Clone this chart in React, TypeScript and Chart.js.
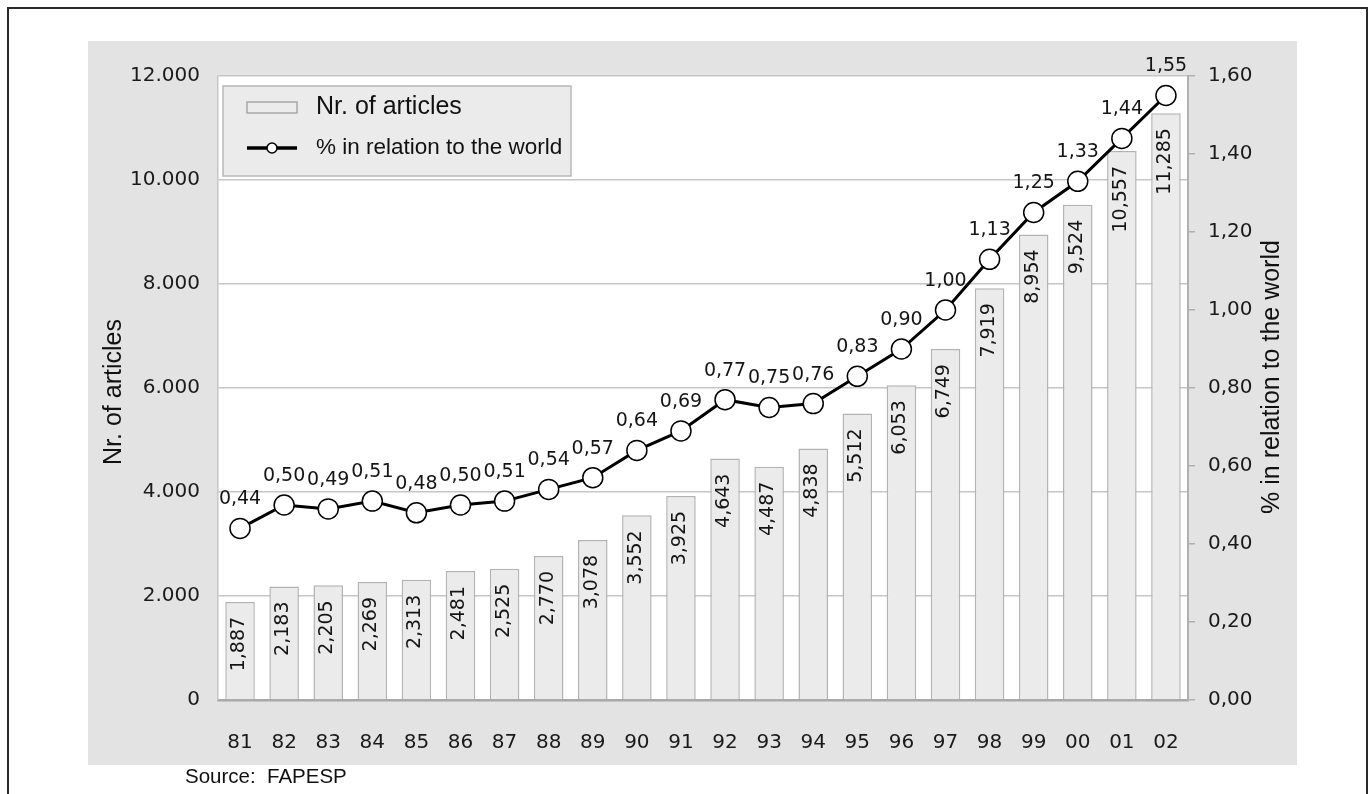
import React, { useEffect, useRef } from 'react';
import { Chart, registerables } from 'chart.js';

Chart.register(...registerables);

const categories = ['81', '82', '83', '84', '85', '86', '87', '88', '89', '90', '91', '92', '93', '94', '95', '96', '97', '98', '99', '00', '01', '02'];
const articles = [1887, 2183, 2205, 2269, 2313, 2481, 2525, 2770, 3078, 3552, 3925, 4643, 4487, 4838, 5512, 6053, 6749, 7919, 8954, 9524, 10557, 11285];
const worldShare = [0.44, 0.50, 0.49, 0.51, 0.48, 0.50, 0.51, 0.54, 0.57, 0.64, 0.69, 0.77, 0.75, 0.76, 0.83, 0.90, 1.00, 1.13, 1.25, 1.33, 1.44, 1.55];
const leftAxis = { min: 0, max: 12000, step: 2000 };
const rightAxis = { min: 0, max: 1.6, step: 0.2 };
const barLabel = 'Nr. of articles';
const lineLabel = '% in relation to the world';
const sourceText = 'Source:\u00a0 FAPESP';

const TICK_FONT = '"DejaVu Sans", Verdana, sans-serif';
const SANS = '"Liberation Sans", Arial, sans-serif';

function groupThousands(n: number, sep: string) {
  return String(n).replace(/\B(?=(\d{3})+(?!\d))/g, sep);
}
function pct(v: number) {
  return v.toFixed(2).replace('.', ',');
}

const decorPlugin = {
  id: 'decor',
  beforeDraw(chart: any) {
    const { ctx, chartArea: a, width, height } = chart;
    ctx.save();
    ctx.fillStyle = '#e3e3e3';
    ctx.fillRect(0, 0, width, height);
    ctx.fillStyle = '#ffffff';
    ctx.fillRect(a.left, a.top, a.right - a.left, a.bottom - a.top);
    ctx.restore();
  },
  afterDatasetDraw(chart: any, args: any) {
    const meta = args.meta;
    if (meta.type !== 'bar') return;
    const { ctx } = chart;
    const data = chart.data.datasets[args.index].data as number[];
    ctx.save();
    ctx.fillStyle = '#151515';
    ctx.font = `19px ${TICK_FONT}`;
    meta.data.forEach((el: any, i: number) => {
      ctx.save();
      ctx.translate(el.x - 1, el.y + 15);
      ctx.rotate(-Math.PI / 2);
      ctx.textAlign = 'right';
      ctx.textBaseline = 'middle';
      ctx.fillText(groupThousands(data[i], ','), 0, 0);
      ctx.restore();
    });
    ctx.restore();
  },
  afterDatasetsDraw(chart: any) {
    const { ctx } = chart;
    chart.data.datasets.forEach((ds: any, di: number) => {
      const meta = chart.getDatasetMeta(di);
      if (meta.type !== 'line') return;
      ctx.save();
      ctx.fillStyle = '#151515';
      ctx.font = `19px ${TICK_FONT}`;
      ctx.textAlign = 'center';
      ctx.textBaseline = 'middle';
      meta.data.forEach((el: any, i: number) => {
        ctx.fillText(pct(ds.data[i]), el.x, el.y - 29);
      });
      ctx.restore();
    });
  },
  afterDraw(chart: any) {
    const { ctx, chartArea: a } = chart;
    ctx.save();
    // axis titles
    ctx.fillStyle = '#111';
    ctx.font = `25px ${SANS}`;
    ctx.textAlign = 'center';
    ctx.textBaseline = 'middle';
    ctx.save();
    ctx.translate(26, (a.top + a.bottom) / 2 + 4);
    ctx.rotate(-Math.PI / 2);
    ctx.fillText(barLabel, 0, 0);
    ctx.restore();
    ctx.save();
    ctx.translate(1184, (a.top + a.bottom) / 2 - 11);
    ctx.rotate(-Math.PI / 2);
    ctx.fillText(lineLabel, 0, 0);
    ctx.restore();

    // legend box
    const lx = 135, ly = 45, lw = 348, lh = 90;
    ctx.fillStyle = '#ebebeb';
    ctx.fillRect(lx, ly, lw, lh);
    ctx.strokeStyle = '#b8b8b8';
    ctx.lineWidth = 1.5;
    ctx.strokeRect(lx, ly, lw, lh);
    // bar swatch
    ctx.fillStyle = '#ececec';
    ctx.fillRect(159, 61, 50, 11);
    ctx.strokeStyle = '#a8a8a8';
    ctx.strokeRect(159, 61, 50, 11);
    // line swatch
    ctx.strokeStyle = '#000';
    ctx.lineWidth = 3.5;
    ctx.beginPath();
    ctx.moveTo(159, 107);
    ctx.lineTo(209, 107);
    ctx.stroke();
    ctx.beginPath();
    ctx.arc(184, 107, 5, 0, Math.PI * 2);
    ctx.fillStyle = '#fff';
    ctx.fill();
    ctx.lineWidth = 1.5;
    ctx.stroke();
    // legend text
    ctx.fillStyle = '#111';
    ctx.textAlign = 'left';
    ctx.textBaseline = 'middle';
    ctx.font = `25px ${SANS}`;
    ctx.fillText(barLabel, 228, 66);
    ctx.font = `22.5px ${SANS}`;
    ctx.fillText(lineLabel, 228, 107);
    ctx.restore();
  },
};

export default function App() {
  const ref = useRef<HTMLCanvasElement>(null);

  useEffect(() => {
    const canvas = ref.current;
    if (!canvas) return;
    const chart = new Chart(canvas, {
      type: 'bar',
      data: {
        labels: categories,
        datasets: [
          {
            type: 'line',
            label: lineLabel,
            data: worldShare,
            yAxisID: 'y1',
            order: 0,
            borderColor: '#000',
            borderWidth: 3,
            pointRadius: 10,
            pointBackgroundColor: '#fff',
            pointBorderColor: '#000',
            pointBorderWidth: 1.5,
            tension: 0,
          } as any,
          {
            type: 'bar',
            label: barLabel,
            data: articles,
            yAxisID: 'y',
            order: 1,
            backgroundColor: '#ebebeb',
            borderColor: '#b3b3b3',
            borderWidth: 1.5,
            barPercentage: 0.67,
            categoryPercentage: 1,
          } as any,
        ],
      },
      options: {
        responsive: false,
        animation: false,
        devicePixelRatio: 1,
        layout: { padding: { top: 35, left: 0, right: 0, bottom: 0 } },
        plugins: { legend: { display: false }, tooltip: { enabled: false } },
        scales: {
          x: {
            grid: { drawOnChartArea: false, drawTicks: false, color: 'transparent' },
            border: { display: true, color: '#a8a8a8', width: 2.5 },
            ticks: {
              color: '#1a1a1a',
              font: { family: TICK_FONT, size: 20 },
              padding: 31,
              autoSkip: false,
              maxRotation: 0,
            },
            afterFit: (s: any) => { s.height = 65; },
          },
          y: {
            position: 'left',
            min: leftAxis.min,
            max: leftAxis.max,
            grid: { color: '#c6c6c6', lineWidth: 1.5, drawTicks: false },
            border: { display: true, color: '#c6c6c6', width: 1.5 },
            ticks: {
              stepSize: leftAxis.step,
              color: '#1a1a1a',
              font: { family: TICK_FONT, size: 20 },
              padding: 18,
              callback: (v: any) => groupThousands(Number(v), '.'),
            },
            afterFit: (s: any) => { s.width = 130; },
          },
          y1: {
            position: 'right',
            min: rightAxis.min,
            max: rightAxis.max,
            grid: { drawOnChartArea: false, drawTicks: true, tickLength: 7, color: '#b0b0b0', lineWidth: 1.5 },
            border: { display: true, color: '#b0b0b0', width: 2 },
            ticks: {
              stepSize: rightAxis.step,
              color: '#1a1a1a',
              font: { family: TICK_FONT, size: 20 },
              padding: 13,
              callback: (v: any) => pct(Number(v)),
            },
            afterFit: (s: any) => { s.width = 109; },
          },
        },
      } as any,
      plugins: [decorPlugin],
    });
    return () => chart.destroy();
  }, []);

  return (
    <div style={{ position: 'fixed', inset: 0, overflow: 'hidden', background: '#fff' }}>
      <div
        style={{
          position: 'absolute',
          left: 7,
          top: 7,
          width: 1361,
          height: 820,
          border: '2px solid #2a2a2a',
          borderBottom: 'none',
          boxSizing: 'border-box',
        }}
      />
      <canvas
        ref={ref}
        width={1209}
        height={724}
        style={{ position: 'absolute', left: 88, top: 41, width: 1209, height: 724 }}
      />
      <div
        style={{
          position: 'absolute',
          left: 185,
          top: 766,
          font: `20.5px ${SANS}`,
          lineHeight: '20px',
          color: '#111',
          whiteSpace: 'nowrap',
        }}
      >
        {sourceText}
      </div>
    </div>
  );
}
